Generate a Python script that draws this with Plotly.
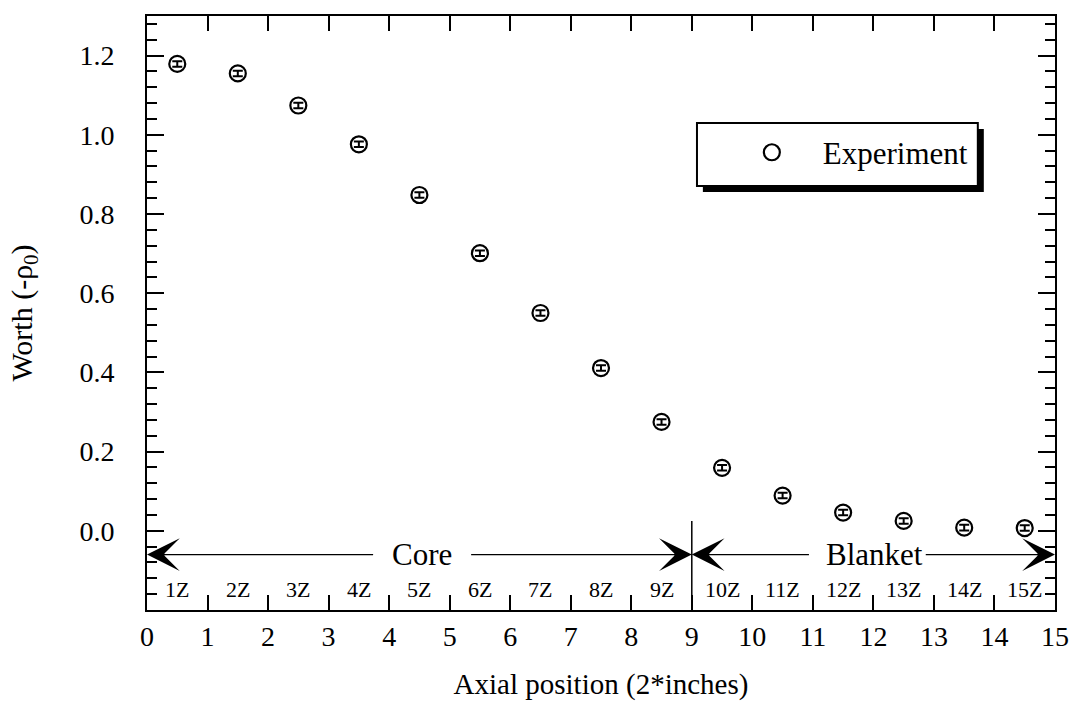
import plotly.graph_objects as go

# ---- data ----
positions = [0.5, 1.5, 2.5, 3.5, 4.5, 5.5, 6.5, 7.5, 8.5, 9.5, 10.5, 11.5, 12.5, 13.5, 14.5]
worth = [1.179, 1.155, 1.074, 0.976, 0.848, 0.701, 0.550, 0.411, 0.275, 0.159, 0.089, 0.046, 0.025, 0.008, 0.007]
worth_err = [0.007, 0.007, 0.007, 0.007, 0.007, 0.007, 0.007, 0.007, 0.007, 0.007, 0.007, 0.007, 0.007, 0.007, 0.007]
zone_labels = ["1Z", "2Z", "3Z", "4Z", "5Z", "6Z", "7Z", "8Z", "9Z",
               "10Z", "11Z", "12Z", "13Z", "14Z", "15Z"]
x_ticks = list(range(0, 16))
y_ticks = [0.0, 0.2, 0.4, 0.6, 0.8, 1.0, 1.2]
y_ticktext = ["0.0", "0.2", "0.4", "0.6", "0.8", "1.0", "1.2"]

# region markers
core_range = (0, 9)
blanket_range = (9, 15)
region_y = -0.06
zone_label_y = -0.148

FONT = "Liberation Serif"

fig = go.Figure()
fig.add_trace(go.Scatter(
    x=positions, y=worth, mode="markers", name="Experiment",
    marker=dict(symbol="circle-open", size=16, color="black", line=dict(width=2.2, color="black")),
    error_y=dict(type="data", array=worth_err, color="black", thickness=2, width=5),
))

annotations = []
# zone labels
for xc, lab in zip(positions, zone_labels):
    annotations.append(dict(x=xc, y=zone_label_y, xref="x", yref="y", text=lab,
                            showarrow=False, font=dict(size=22, family=FONT, color="black")))

# arrows
def arrow(head, tail):
    return dict(x=head, y=region_y, ax=tail, ay=region_y, xref="x", yref="y",
                axref="x", ayref="y", text="", showarrow=True, arrowhead=3,
                arrowsize=4.2, arrowwidth=1.3, arrowcolor="black", standoff=0)

annotations += [
    arrow(core_range[0], 3.76), arrow(core_range[1], 5.33),
    arrow(blanket_range[0], 10.96), arrow(blanket_range[1], 12.84),
    dict(x=4.55, y=region_y, xref="x", yref="y", text="Core", showarrow=False,
         font=dict(size=31, family=FONT, color="black")),
    dict(x=12.02, y=region_y, xref="x", yref="y", text="Blanket", showarrow=False,
         font=dict(size=31, family=FONT, color="black")),
]

shapes = [
    dict(type="line", xref="x", yref="y", x0=9, x1=9, y0=-0.2, y1=0.025,
         line=dict(color="black", width=1.5)),
    # legend shadow + frame
    dict(type="rect", xref="paper", yref="paper", x0=0.6122, x1=0.9216, y0=0.7037, y1=0.8098,
         fillcolor="black", line=dict(width=0)),
    dict(type="rect", xref="paper", yref="paper", x0=0.6057, x1=0.9150, y0=0.7138, y1=0.8199,
         fillcolor="white", line=dict(color="black", width=2)),
]

fig.update_layout(
    width=1081, height=712,
    margin=dict(l=147, r=16, t=16, b=102),
    paper_bgcolor="white", plot_bgcolor="white",
    font=dict(family=FONT, color="black", size=28),
    showlegend=True,
    legend=dict(x=0.632, y=0.77, xanchor="left", yanchor="middle",
                bgcolor="rgba(0,0,0,0)", borderwidth=0,
                font=dict(size=31, family=FONT), itemwidth=92),
    annotations=annotations,
    shapes=shapes,
)

fig.update_xaxes(
    range=[0, 15], tickvals=x_ticks, ticks="inside", ticklen=15, tickwidth=1.5,
    tickcolor="black", showline=True, linewidth=2, linecolor="black", mirror="ticks",
    showgrid=False, zeroline=False, tickfont=dict(size=28, family=FONT),
    title=dict(text="Axial position (2*inches)", font=dict(size=29, family=FONT), standoff=23),
)
fig.update_yaxes(
    range=[-0.2, 1.3], tickvals=y_ticks, ticktext=y_ticktext, ticks="inside", ticklen=17,
    tickwidth=1.5, tickcolor="black", showline=True, linewidth=2, linecolor="black",
    mirror="ticks", showgrid=False, zeroline=False, tickfont=dict(size=28, family=FONT),
    ticklabelstandoff=25,
    minor=dict(tick0=0, dtick=0.04, ticks="inside", ticklen=10, tickwidth=1.5, tickcolor="black"),
    title=dict(text="Worth (-ρ<sub>0</sub>)", font=dict(size=30, family=FONT), standoff=38),
)

fig.write_html("out.html")
